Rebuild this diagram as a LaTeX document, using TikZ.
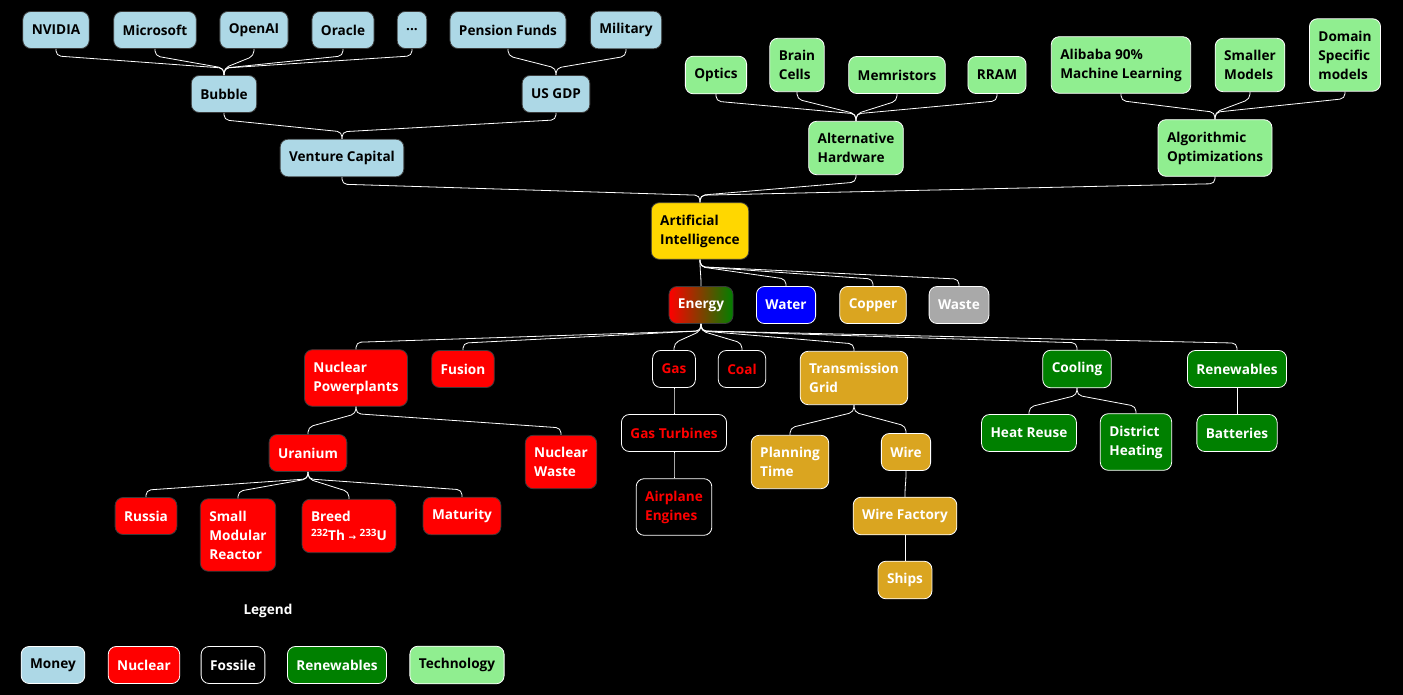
\documentclass[tikz,border=0pt]{standalone}
\usepackage{fontspec}
\setmainfont{Open Sans}
\newfontfamily\arrowfont{DejaVu Sans}
\definecolor{moneyblue}{HTML}{ADD8E6}
\definecolor{techgreen}{HTML}{90EE90}
\definecolor{aigold}{HTML}{FFD700}
\definecolor{coppergold}{HTML}{DAA520}
\definecolor{renewgreen}{HTML}{008000}
\definecolor{wastegray}{HTML}{A9A9A9}
\definecolor{dimline}{HTML}{3A3A3A}
\newcommand{\isotope}[1]{\raisebox{4.5pt}{\fontsize{10}{10}\selectfont #1}}

\begin{document}
\begin{tikzpicture}[x=1pt,y=-1pt,
    box/.style={draw=white, line width=0.8pt, rounded corners=8pt, inner xsep=9pt, inner ysep=12pt,
      minimum height=37pt, font=\fontsize{13.6}{19}\selectfont\bfseries, align=left},
    money/.style={box, fill=moneyblue, draw=dimline, text=black},
    tech/.style={box, fill=techgreen, text=black},
    nuclear/.style={box, fill=red, draw=dimline, text=white},
    fossil/.style={box, fill=black, text=red},
    copper/.style={box, fill=coppergold, text=white},
    renew/.style={box, fill=renewgreen, text=white},
    tree/.style={draw=white, line width=0.8pt, rounded corners=5pt,
      to path={(\tikztostart.south) -- ++(0,7) -- ([yshift=7pt]\tikztotarget.north) -- (\tikztotarget.north)}}]
   \fill[black] (0,0) rectangle (1403,695);
   \useasboundingbox (0,0) rectangle (1403,695);

   % Money
   \node[money] (nvidia) at (56,30) {NVIDIA};
   \node[money] (msft) at (155,30) {Microsoft};
   \node[money] (openai) at (254,30) {OpenAI};
   \node[money] (oracle) at (343,30) {Oracle};
   \node[money] (more) at (412,30) {...};
   \node[money] (pension) at (508,30) {Pension Funds};
   \node[money] (military) at (626,30) {Military};
   \node[money] (bubble) at (224,94) {Bubble};
   \node[money] (usgdp) at (556,94) {US GDP};
   \node[money] (vc) at (342,158) {Venture Capital};

   % Technology
   \node[tech] (optics) at (716,75) {Optics};
   \node[tech] (brain) at (797,65) {Brain\\Cells};
   \node[tech] (memr) at (897,75) {Memristors};
   \node[tech] (rram) at (997,75) {RRAM};
   \node[tech] (alibaba) at (1121,65) {Alibaba 90\%\\Machine Learning};
   \node[tech] (smaller) at (1250,65) {Smaller\\Models};
   \node[tech] (domain) at (1345,55) {Domain\\Specific\\models};
   \node[tech] (althw) at (856,148) {Alternative\\Hardware};
   \node[tech] (algo) at (1215,148) {Algorithmic\\Optimizations};

   \node[box, fill=aigold, draw=dimline, text=black] (ai) at (700,231) {Artificial\\Intelligence};

   % Resources
   \node[box, draw=dimline, left color=red, right color=renewgreen, text=white] (energy) at (701,305) {Energy};
   \node[box, fill=blue, text=white] (water) at (786,305) {Water};
   \node[copper] (copperres) at (873,305) {Copper};
   \node[box, fill=wastegray, text=white] (waste) at (959,305) {Waste};

   % Nuclear
   \node[nuclear] (npp) at (356,378) {Nuclear\\Powerplants};
   \node[nuclear] (fusion) at (463,369) {Fusion};
   \node[nuclear] (uranium) at (308,453) {Uranium};
   \node[nuclear] (nwaste) at (561,462) {Nuclear\\Waste};
   \node[nuclear] (russia) at (146,516) {Russia};
   \node[nuclear] (smr) at (238,535) {Small\\Modular\\Reactor};
   \node[nuclear] (breed) at (349,526) {Breed\\\isotope{232}Th {\arrowfont\fontsize{9}{9}\selectfont →} \isotope{233}U};
   \node[nuclear] (maturity) at (462,516) {Maturity};

   % Fossile
   \node[fossil] (gas) at (674,369) {Gas};
   \node[fossil] (coal) at (742,369) {Coal};
   \node[fossil] (gasturb) at (674,433) {Gas Turbines};
   \node[fossil] (airplane) at (674,507) {Airplane\\Engines};

   % Grid
   \node[copper] (grid) at (854,378) {Transmission\\Grid};
   \node[copper] (planning) at (790,462) {Planning\\Time};
   \node[copper] (wire) at (906,452) {Wire};
   \node[copper] (wirefac) at (905,516) {Wire Factory};
   \node[copper] (ships) at (905,580) {Ships};

   % Renewables
   \node[renew] (cooling) at (1077,369) {Cooling};
   \node[renew] (renewables) at (1237,369) {Renewables};
   \node[renew] (heat) at (1029,433) {Heat Reuse};
   \node[renew] (district) at (1136,442) {District\\Heating};
   \node[renew] (batteries) at (1237,433) {Batteries};

   % Legend
   \node[font=\fontsize{13.6}{19}\selectfont\bfseries, text=white] (legend) at (268,611) {Legend};
   \node[box, fill=moneyblue, text=black] (lmoney) at (53,665) {Money};
   \node[box, fill=red, text=white] (lnuclear) at (144,665) {Nuclear};
   \node[box, fill=black, text=white] (lfossile) at (233,665) {Fossile};
   \node[box, fill=renewgreen, text=white] (lrenew) at (337,665) {Renewables};
   \node[box, fill=techgreen, text=black] (ltech) at (457,665) {Technology};

    \path[tree]
        % Money
        (nvidia) edge (bubble)
        (msft) edge (bubble)
        (openai) edge (bubble)
        (oracle) edge (bubble)
        (more) edge (bubble)
        (pension) edge (usgdp)
        (military) edge (usgdp)
        (bubble) edge (vc)
        (usgdp) edge (vc)
        % Technology
        (optics) edge (althw)
        (brain) edge (althw)
        (memr) edge (althw)
        (rram) edge (althw)
        (alibaba) edge (algo)
        (smaller) edge (algo)
        (domain) edge (algo)
        (vc) edge (ai)
        (althw) edge (ai)
        (algo) edge (ai)
        % From AI
        (ai) edge (energy)
             edge (water)
             edge (copperres)
             edge (waste)
        % From Energy
        (energy) edge (npp)
                 edge (fusion)
                 edge (gas)
                 edge (coal)
                 edge (grid)
                 edge (cooling)
                 edge (renewables)
        (npp) edge (uranium)
              edge (nwaste)
        (uranium) edge (russia)
                  edge (smr)
                  edge (breed)
                  edge (maturity)
        (gas) edge (gasturb)
        (gasturb) edge (airplane)
        (grid) edge (planning)
               edge (wire)
        (wire) edge (wirefac)
        (wirefac) edge (ships)
        (cooling) edge (heat)
                  edge (district)
        (renewables) edge (batteries);
\end{tikzpicture}
\end{document}
